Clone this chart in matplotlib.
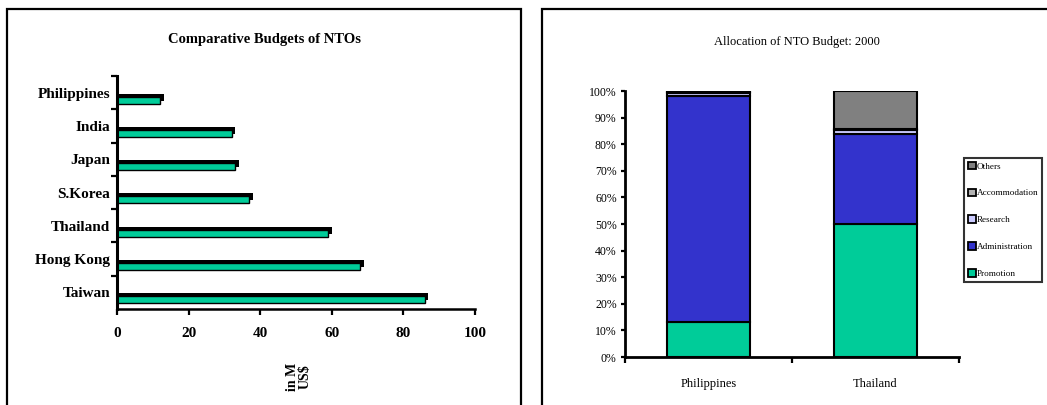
import matplotlib.pyplot as plt
from matplotlib.patches import Rectangle, Patch

plt.rcParams['font.family'] = ['Liberation Serif', 'DejaVu Serif']

# left chart: NTO budgets (M US$), listed top to bottom
countries = ["Philippines", "India", "Japan", "S.Korea", "Thailand", "Hong Kong", "Taiwan"]
budgets = [12, 32, 33, 37, 59, 68, 86]

# right chart: share of budget in 2000 (%)
alloc_countries = ["Philippines", "Thailand"]
alloc_items = ["Promotion", "Administration", "Research", "Accommodation", "Others"]
promotion = [13, 50]
administration = [85, 34]
research = [1.2, 1.2]
accommodation = [0.4, 0.4]
others = [0.4, 14.4]

green = "#00CC99"
item_colors = [green, "#3333CC", "#CCCCFF", "#B2B2B2", "#808080"]

W, H = 1047, 405
fig = plt.figure(figsize=(W / 100, H / 100), dpi=100)

# panel frames
fig.add_artist(Rectangle((7 / W, -0.1), (521 - 7) / W, 1.1 - 9 / H,
                         transform=fig.transFigure, fill=False, lw=1.6, color="black"))
fig.add_artist(Rectangle((542 / W, -0.1), 0.6, 1.1 - 9 / H,
                         transform=fig.transFigure, fill=False, lw=1.6, color="black"))

# ---- left: horizontal bars with a shadow ----
ax1 = fig.add_axes([117 / W, 1 - 309 / H, (475 - 117) / W, 233 / H])
pos = list(range(len(countries)))[::-1]
ax1.barh([p - 0.135 for p in pos], [b + 1.0 for b in budgets], height=0.21,
         color="black", zorder=2)
ax1.barh([p - 0.225 for p in pos], budgets, height=0.21, color=green,
         edgecolor="black", linewidth=1.0, zorder=3)
ax1.set_xlim(0, 100)
ax1.set_ylim(-0.5, len(countries) - 0.5)
ax1.set_xticks(range(0, 101, 20))
ax1.set_yticks(pos)
ax1.set_yticklabels(countries, fontsize=11, fontweight="bold")
ax1.set_yticks([p + 0.5 for p in range(len(countries))], minor=True)
ax1.tick_params(axis="y", which="major", length=0, pad=5)
ax1.tick_params(axis="y", which="minor", length=4, width=1.6, direction="out")
ax1.tick_params(axis="x", length=4, width=1.6, pad=9, labelsize=11)
for lab in ax1.get_xticklabels():
    lab.set_fontweight("bold")
for s in ["top", "right"]:
    ax1.spines[s].set_visible(False)
ax1.spines["left"].set_linewidth(2.2)
ax1.spines["bottom"].set_linewidth(1.8)
ax1.spines["left"].set_zorder(4)

fig.text(264 / W, 1 - 39 / H, "Comparative Budgets of NTOs", ha="center", va="center",
         fontsize=10.5, fontweight="bold")
fig.text(299 / W, 1 - 377 / H, "in M\nUS$", ha="center", va="center", rotation=90,
         fontsize=10, fontweight="bold", linespacing=0.95)

# ---- right: stacked 100% columns ----
ax2 = fig.add_axes([625 / W, 1 - 357 / H, (959 - 625) / W, 266 / H])
series = [promotion, administration, research, accommodation, others]
x = list(range(len(alloc_countries)))
bottom = [0] * len(x)
handles = []
for name, vals, col in zip(alloc_items, series, item_colors):
    ax2.bar(x, vals, bottom=bottom, width=0.5, color=col, edgecolor="black",
            linewidth=1.5, label=name)
    bottom = [b + v for b, v in zip(bottom, vals)]
    handles.append(Patch(facecolor=col, edgecolor="black", linewidth=1.3, label=name))
ax2.set_xlim(-0.5, len(x) - 0.5)
ax2.set_ylim(0, 100)
ax2.set_yticks(range(0, 101, 10))
ax2.set_yticklabels([f"{v}%" for v in range(0, 101, 10)], fontsize=8.5)
ax2.set_xticks(x)
ax2.set_xticklabels(alloc_countries, fontsize=9)
ax2.set_xticks([-0.5, 0.5, 1.5], minor=True)
ax2.tick_params(axis="x", which="major", length=0, pad=15)
ax2.tick_params(axis="x", which="minor", length=4, width=1.6)
ax2.tick_params(axis="y", length=3, width=1.6, pad=3)
for s in ["top", "right"]:
    ax2.spines[s].set_visible(False)
ax2.spines["left"].set_linewidth(2)
ax2.spines["bottom"].set_linewidth(2)

fig.text(797 / W, 1 - 42 / H, "Allocation of NTO Budget: 2000", ha="center", va="center",
         fontsize=9)

leg = fig.legend(handles=handles[::-1], loc="upper left",
                 bbox_to_anchor=(964 / W, 1 - 158 / H), bbox_transform=fig.transFigure,
                 borderaxespad=0, fontsize=6.6, fancybox=False, frameon=True,
                 handlelength=0.9, handleheight=0.9, handletextpad=0.08,
                 labelspacing=1.95, borderpad=0.4)
leg.get_frame().set_edgecolor("black")
leg.get_frame().set_linewidth(1.5)

fig.savefig("out.png", dpi=100)
